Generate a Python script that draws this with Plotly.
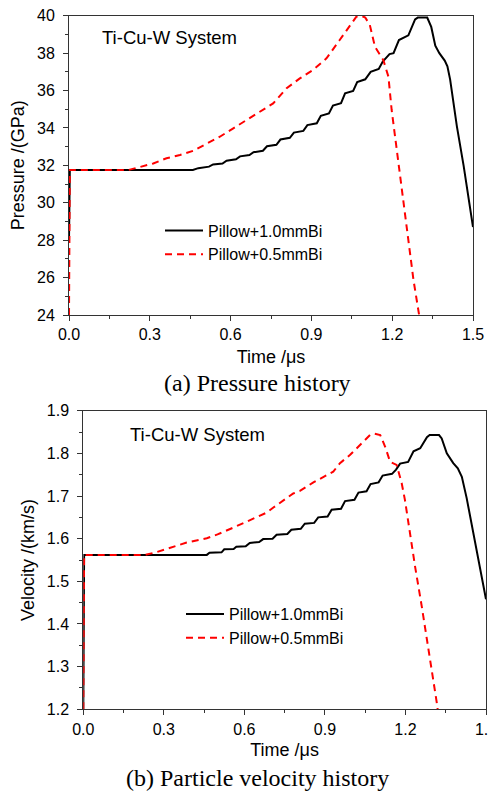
import plotly.graph_objects as go

# ---------------- data ----------------
# (a) Pressure history  (time in us, pressure in GPa)
t_p_10 = [0.000, 0.0015, 0.003, 0.46, 0.48, 0.52, 0.535, 0.57, 0.585, 0.62, 0.635, 0.67, 0.685,
          0.72, 0.735, 0.77, 0.785, 0.82, 0.835, 0.87, 0.885, 0.92, 0.935, 0.965, 0.98, 1.01,
          1.025, 1.055, 1.07, 1.10, 1.12, 1.15, 1.165, 1.19, 1.205, 1.225, 1.26, 1.285, 1.295,
          1.33, 1.345, 1.36, 1.375, 1.395, 1.405, 1.415, 1.44, 1.465, 1.485, 1.50]
p_10 = [28.0, 31.0, 31.75, 31.75, 31.85, 31.93, 32.05, 32.10, 32.25, 32.32, 32.48, 32.55, 32.70,
        32.78, 33.02, 33.10, 33.38, 33.47, 33.75, 33.84, 34.15, 34.25, 34.65, 34.78, 35.20, 35.32,
        35.85, 35.98, 36.45, 36.60, 37.00, 37.15, 37.55, 37.95, 38.00, 38.70, 38.95, 39.80, 39.90,
        39.90, 39.40, 38.40, 38.00, 37.60, 37.30, 36.60, 34.10, 32.00, 30.20, 28.70]

t_p_05 = [0.000, 0.0015, 0.003, 0.22, 0.263, 0.313, 0.362, 0.412, 0.461, 0.511, 0.560, 0.610,
          0.659, 0.709, 0.758, 0.808, 0.857, 0.906, 0.956, 1.005, 1.042, 1.067, 1.085, 1.10,
          1.117, 1.136, 1.167, 1.186, 1.198, 1.211, 1.229, 1.254, 1.279, 1.297, 1.30]
p_05 = [24.0, 31.0, 31.75, 31.75, 31.93, 32.10, 32.38, 32.55, 32.78, 33.18, 33.53, 33.98,
        34.42, 34.87, 35.31, 36.12, 36.65, 37.10, 37.72, 38.70, 39.41, 39.95, 40.0, 39.90,
        39.50, 38.34, 37.63, 36.74, 34.96, 33.53, 31.30, 28.72, 25.87, 24.26, 24.0]

# (b) Particle velocity history  (time in us, velocity in km/s)
t_v_10 = [0.000, 0.0015, 0.003, 0.46, 0.47, 0.515, 0.525, 0.56, 0.57, 0.605, 0.62, 0.655, 0.67,
          0.705, 0.72, 0.76, 0.775, 0.81, 0.825, 0.86, 0.875, 0.91, 0.925, 0.96, 0.975, 1.01,
          1.025, 1.055, 1.07, 1.10, 1.115, 1.15, 1.165, 1.18, 1.21, 1.23, 1.255, 1.28, 1.29,
          1.325, 1.335, 1.354, 1.378, 1.395, 1.41, 1.428, 1.453, 1.478, 1.50]
v_10 = [1.20, 1.50, 1.562, 1.562, 1.567, 1.568, 1.575, 1.576, 1.581, 1.582, 1.590, 1.592, 1.599,
        1.600, 1.609, 1.611, 1.621, 1.623, 1.635, 1.637, 1.650, 1.652, 1.668, 1.670, 1.688, 1.691,
        1.708, 1.711, 1.728, 1.732, 1.748, 1.752, 1.762, 1.776, 1.780, 1.805, 1.812, 1.838, 1.843,
        1.843, 1.835, 1.800, 1.777, 1.765, 1.745, 1.695, 1.613, 1.534, 1.458]

t_v_05 = [0.000, 0.0015, 0.003, 0.23, 0.27, 0.311, 0.385, 0.46, 0.50, 0.559, 0.633, 0.683, 0.708,
          0.782, 0.807, 0.857, 0.931, 0.956, 0.993, 1.018, 1.068, 1.085, 1.106, 1.124, 1.143,
          1.167, 1.186, 1.198, 1.211, 1.236, 1.261, 1.285, 1.319, 1.32]
v_05 = [1.20, 1.50, 1.562, 1.562, 1.568, 1.576, 1.591, 1.601, 1.610, 1.626, 1.646, 1.661, 1.673,
        1.706, 1.712, 1.732, 1.757, 1.777, 1.796, 1.812, 1.843, 1.846, 1.843, 1.816, 1.780,
        1.773, 1.730, 1.691, 1.636, 1.534, 1.440, 1.347, 1.206, 1.20]

series_names = ["Pillow+1.0mmBi", "Pillow+0.5mmBi"]
x_ticks = [0.0, 0.3, 0.6, 0.9, 1.2, 1.5]
x_ticktext = ["0.0", "0.3", "0.6", "0.9", "1.2", "1.5"]

SANS = "Arial, Liberation Sans, sans-serif"
SERIF = "Times New Roman, Liberation Serif, serif"
W, H = 496, 794
OFF = 8  # the page body has an 8px margin; positions below are page pixels

fig = go.Figure()
black = dict(color="black", width=2)
red = dict(color="#ff0000", width=2, dash="7px,5px")

fig.add_trace(go.Scatter(x=t_p_10, y=p_10, mode="lines", line=black, name=series_names[0],
                         xaxis="x", yaxis="y", legend="legend"))
fig.add_trace(go.Scatter(x=t_p_05, y=p_05, mode="lines", line=red, name=series_names[1],
                         xaxis="x", yaxis="y", legend="legend"))
fig.add_trace(go.Scatter(x=t_v_10, y=v_10, mode="lines", line=black, name=series_names[0],
                         xaxis="x2", yaxis="y2", legend="legend2"))
fig.add_trace(go.Scatter(x=t_v_05, y=v_05, mode="lines", line=red, name=series_names[1],
                         xaxis="x2", yaxis="y2", legend="legend2"))

def px_x(v):
    return (v - OFF) / W

def px_y(v):
    return 1 - (v - OFF) / H

axis_common = dict(showline=True, linecolor="#333", linewidth=1, mirror=True, showgrid=False,
                   zeroline=False, ticks="outside", ticklen=5, tickcolor="#333", tickwidth=1,
                   automargin=False, ticklabeloverflow="allow",
                   tickfont=dict(family=SANS, size=16, color="black"))

def xaxis_cfg(domain, anchor, standoff):
    return dict(axis_common, domain=domain, anchor=anchor, range=[0, 1.5], tickvals=x_ticks,
                ticktext=x_ticktext,
                minor=dict(ticks="outside", ticklen=3, dtick=0.15, tick0=0, tickcolor="#333"),
                title=dict(text="Time /μs", font=dict(family=SANS, size=18, color="black"),
                           standoff=standoff))

legend_common = dict(xanchor="left", yanchor="top", bgcolor="rgba(0,0,0,0)", itemwidth=38,
                     font=dict(family=SANS, size=16, color="black"), tracegroupgap=0)

fig.update_layout(
    template="none",
    width=W, height=H,
    margin=dict(l=0, r=0, t=0, b=0, pad=0),
    paper_bgcolor="white", plot_bgcolor="white",
    xaxis=xaxis_cfg([px_x(69), px_x(473)], "y", 8),
    yaxis=dict(axis_common, domain=[px_y(315), px_y(15.7)], anchor="x", range=[24, 40], dtick=2,
               tick0=24, ticklabelstandoff=5,
               minor=dict(ticks="outside", ticklen=3, dtick=1, tickcolor="#333"),
               title=dict(text="Pressure /(GPa)", font=dict(family=SANS, size=18, color="black"),
                          standoff=9)),
    xaxis2=xaxis_cfg([px_x(83.3), px_x(486)], "y2", 6),
    yaxis2=dict(axis_common, domain=[px_y(709.3), px_y(410.7)], anchor="x2", range=[1.2, 1.9],
                dtick=0.1, tick0=1.2, tickformat=".1f", ticklabelstandoff=5,
                minor=dict(ticks="outside", ticklen=3, dtick=0.05, tickcolor="#333"),
                title=dict(text="Velocity /(km/s)", font=dict(family=SANS, size=18, color="black"),
                           standoff=7)),
    legend=dict(legend_common, x=px_x(160), y=px_y(213.5)),
    legend2=dict(legend_common, x=px_x(181), y=px_y(597)),
    showlegend=True,
)

fig.add_annotation(text="Ti-Cu-W System", x=px_x(100), y=px_y(38), xref="paper", yref="paper",
                   xanchor="left", yanchor="middle", showarrow=False,
                   font=dict(family=SANS, size=18.5, color="black"))
fig.add_annotation(text="Ti-Cu-W System", x=px_x(128), y=px_y(434), xref="paper", yref="paper",
                   xanchor="left", yanchor="middle", showarrow=False,
                   font=dict(family=SANS, size=18.5, color="black"))
fig.add_annotation(text="(a) Pressure history", x=px_x(257), y=px_y(383), xref="paper",
                   yref="paper", xanchor="center", yanchor="middle", showarrow=False,
                   font=dict(family=SERIF, size=24, color="black"))
fig.add_annotation(text="(b) Particle velocity history", x=px_x(257), y=px_y(778), xref="paper",
                   yref="paper", xanchor="center", yanchor="middle", showarrow=False,
                   font=dict(family=SERIF, size=24, color="black"))

fig.write_html("out.html")
